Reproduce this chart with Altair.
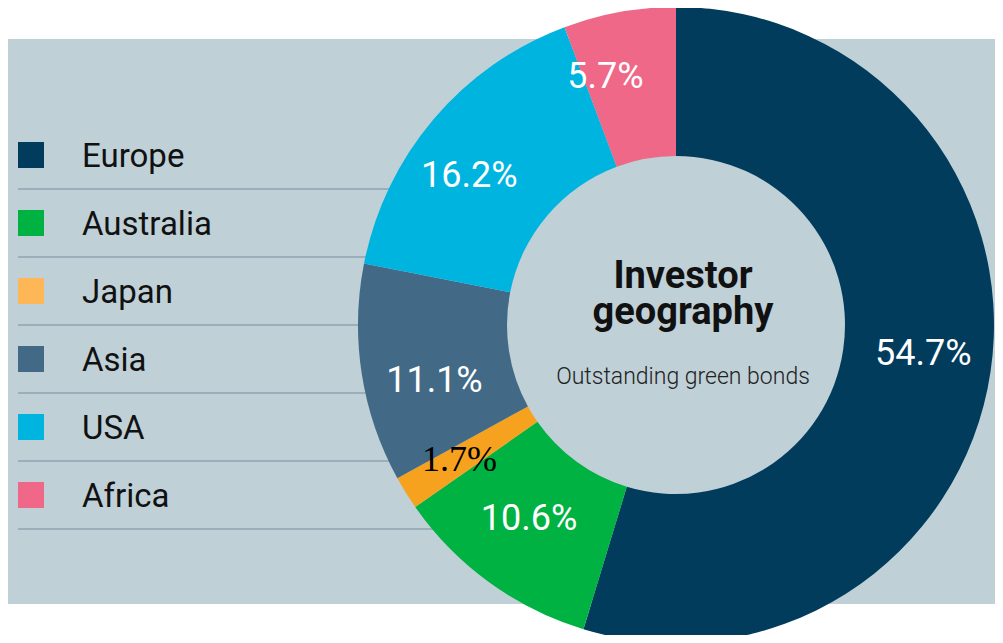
import altair as alt
import pandas as pd

regions = ["Europe", "Australia", "Japan", "Asia", "USA", "Africa"]
shares = [54.7, 10.6, 1.7, 11.1, 16.2, 5.7]
slice_colors = ["#013c5d", "#00b241", "#f7a21f", "#426a86", "#00b4e0", "#ef6887"]
legend_colors = ["#013c5d", "#00b241", "#fdb757", "#426a86", "#00b4e0", "#ef6887"]
label_colors = ["white", "white", "black", "white", "white", "white"]
center_title = ["Investor", "geography"]
center_sub = "Outstanding green bonds"

df = pd.DataFrame({
    "region": regions,
    "share": shares,
    "idx": list(range(len(regions))),
    "slice_color": slice_colors,
    "legend_color": legend_colors,
    "label_color": label_colors,
    "label": [f"{v}%" for v in shares],
})

W, H = 987, 627
CX, CY = 668, 317
R_OUT, R_IN = 318, 169
BG = "#bfd0d7"

base = alt.Chart(df)

bg = alt.Chart(pd.DataFrame({"a": [0]})).mark_rect(color=BG).encode(
    x=alt.value(0), x2=alt.value(W), y=alt.value(31), y2=alt.value(596)
)

yscale = alt.Scale(type="point", domain=regions, range=[147, 487], padding=0)

sep = base.mark_rule(color="#8fa5b1", strokeWidth=1.5, yOffset=34).encode(
    y=alt.Y("region:N", scale=yscale, axis=None),
    x=alt.value(10), x2=alt.value(430),
)

squares = base.mark_square(size=676, opacity=1).encode(
    y=alt.Y("region:N", scale=yscale, axis=None),
    x=alt.value(23),
    color=alt.Color("legend_color:N", scale=None),
)

leg_text = base.mark_text(
    align="left", baseline="alphabetic", dy=12, fontSize=33, font="Roboto", color="#111111"
).encode(
    y=alt.Y("region:N", scale=yscale, axis=None),
    x=alt.value(74),
    text="region:N",
)

arcs = base.mark_arc(innerRadius=R_IN, outerRadius=R_OUT, strokeWidth=0).encode(
    theta=alt.Theta("share:Q", stack=True),
    order=alt.Order("idx:Q"),
    color=alt.Color("slice_color:N", scale=None),
    x=alt.value(CX), y=alt.value(CY),
)

labels_white = base.transform_filter(alt.datum.region != "Japan").mark_text(
    radius=250, fontSize=36, font="Roboto", align="center", baseline="middle", color="white", dy=-8
).encode(
    theta=alt.Theta("share:Q", stack=True),
    order=alt.Order("idx:Q"),
    text="label:N",
    x=alt.value(CX), y=alt.value(CY),
)

labels_japan = base.mark_text(
    radius=255, fontSize=36, font="Liberation Serif", align="center", baseline="middle"
).encode(
    theta=alt.Theta("share:Q", stack=True),
    order=alt.Order("idx:Q"),
    text=alt.condition(alt.datum.region == "Japan", "label:N", alt.value("")),
    color=alt.Color("label_color:N", scale=None),
    x=alt.value(CX), y=alt.value(CY),
)

title = alt.Chart(pd.DataFrame({"a": [0]})).mark_text(
    text=center_title, fontSize=38, fontWeight="bold", font="Roboto", color="#111111",
    align="center", baseline="alphabetic", lineHeight=36
).encode(x=alt.value(675), y=alt.value(280))

sub = alt.Chart(pd.DataFrame({"a": [0]})).mark_text(
    text=center_sub, fontSize=23, fontWeight=300, font="Roboto", color="#222222",
    align="center", baseline="alphabetic"
).encode(x=alt.value(675), y=alt.value(376))

chart = alt.layer(bg, sep, squares, leg_text, arcs, labels_white, labels_japan, title, sub).properties(
    width=W, height=H, padding=0, autosize=alt.AutoSizeParams(type="none"), background="white"
).configure_view(stroke=None)

chart.save("out.html", embed_options={"renderer": "svg", "actions": False})
